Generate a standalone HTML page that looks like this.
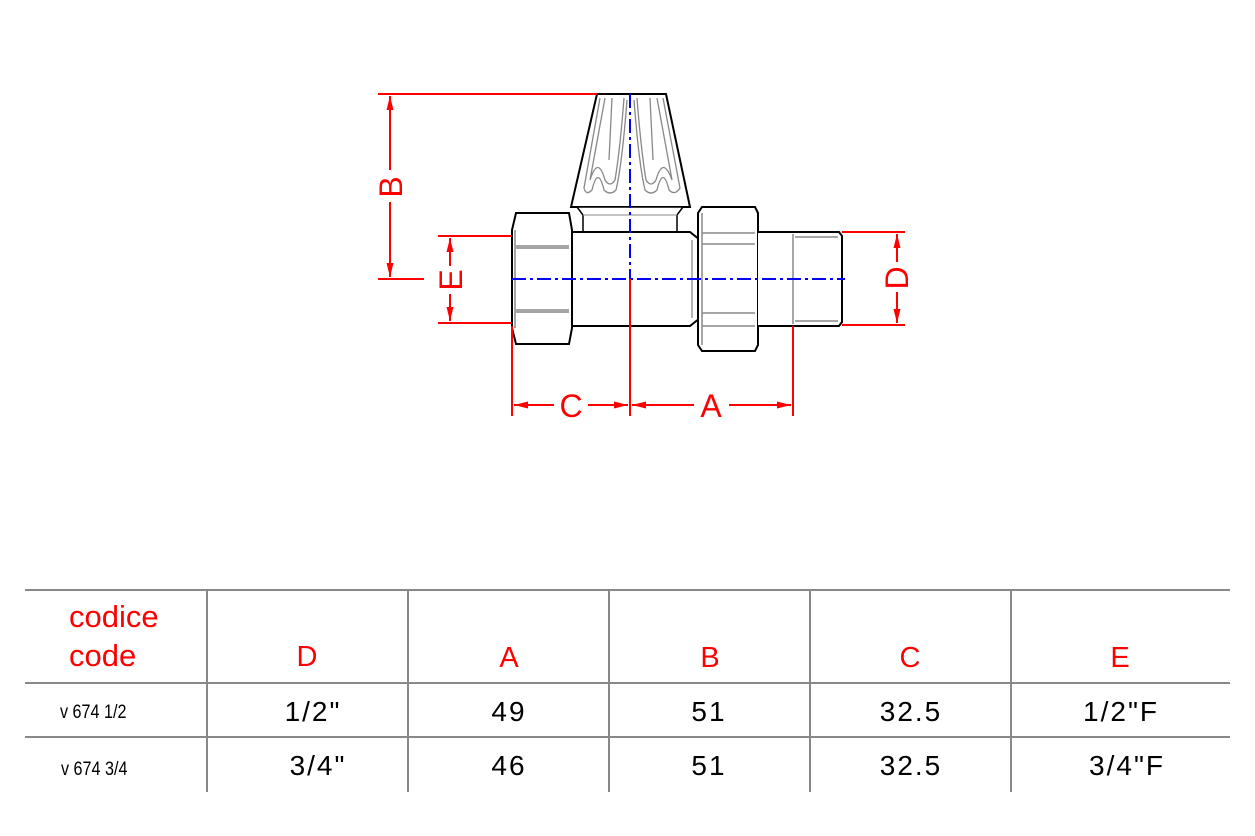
<!DOCTYPE html>
<html><head><meta charset="utf-8"><style>
html,body{margin:0;padding:0;background:#fff;}
svg{display:block;}
.r{font-family:"Liberation Sans",sans-serif;fill:#f00;}
.v{font-family:"Liberation Sans",sans-serif;fill:#000;font-size:28px;letter-spacing:2px;}
.c{font-family:"Liberation Sans",sans-serif;fill:#000;font-size:19px;}
</style></head><body>
<svg width="1255" height="836" viewBox="0 0 1255 836" xmlns="http://www.w3.org/2000/svg">
<defs>
<marker id="ar" markerWidth="14" markerHeight="7" refX="14" refY="3.5" orient="auto" markerUnits="userSpaceOnUse"><path d="M0,0 L14,3.5 L0,7 z" fill="#f00"/></marker>
</defs>
<!-- knob -->
<path d="M597,94 L666,94 L690,207 L571,207 Z" fill="#fff" stroke="#000" stroke-width="2"/>
<g fill="none" stroke="#888" stroke-width="1.3">
<path d="M600,98 L584,188 Q586,196 592,190 Q598,165 604,190 Q610,196 616,190 Q622,165 627,100"/>
<path d="M605,98 L590,180 Q598,155 605,180 Q610,188 615,180 Q620,150 624,98"/>
<path d="M634,100 Q639,165 645,190 Q651,196 657,190 Q663,165 669,190 Q675,196 680,188 L663,98"/>
<path d="M637,98 Q641,150 646,180 Q651,188 656,180 Q663,155 672,180 L657,98"/>
<path d="M612,98 L609,160 M650,98 L653,160"/>
</g>
<!-- collar -->
<path d="M577,207 L683,207 L677,215 L677,232 L583,232 L583,215 Z" fill="#fff" stroke="#000" stroke-width="1.5"/>
<line x1="583" y1="215" x2="677" y2="215" stroke="#888"/>
<path d="M583,232 Q630,255 677,232" fill="none" stroke="#888" stroke-width="1.5"/>
<!-- body -->
<path d="M572,232 L690,232 L700,240 L700,318 L690,326 L572,326" fill="#fff" stroke="#000" stroke-width="2"/>
<line x1="692" y1="240" x2="692" y2="318" stroke="#888" stroke-width="1.3"/>
<!-- left nut -->
<path d="M516,213 L569,213 L572,230 L572,328 L569,344 L516,344 L512,328 L512,230 Z" fill="#fff" stroke="#000" stroke-width="2"/>
<g stroke="#888" stroke-width="1.5" fill="none">
<line x1="516" y1="246" x2="569" y2="246"/><line x1="516" y1="248" x2="569" y2="248"/>
<line x1="516" y1="310" x2="569" y2="310"/><line x1="516" y1="312" x2="569" y2="312"/>
<line x1="515" y1="230" x2="515" y2="328"/>
</g>
<!-- right nut -->
<path d="M702,207 L755,207 L758,213 L758,345 L755,351 L702,351 L698,345 L698,213 Z" fill="#fff" stroke="#000" stroke-width="2"/>
<g stroke="#888" stroke-width="1.5" fill="none">
<line x1="702" y1="233" x2="755" y2="233"/><line x1="702" y1="244" x2="755" y2="244"/>
<line x1="702" y1="313" x2="755" y2="313"/><line x1="702" y1="326" x2="755" y2="326"/>
<line x1="702" y1="213" x2="702" y2="345"/>
</g>
<!-- pipe -->
<path d="M758,232 L839,232 L842,236 L842,322 L839,326 L758,326" fill="#fff" stroke="#000" stroke-width="2"/>
<g stroke="#888" stroke-width="1.5"><line x1="793" y1="234" x2="793" y2="324"/><line x1="795" y1="237" x2="838" y2="237"/><line x1="795" y1="321" x2="838" y2="321"/></g>
<!-- center lines -->
<g stroke="#00f" stroke-width="2" stroke-dasharray="14,4,3,4">
<line x1="512" y1="279" x2="845" y2="279"/>
<line x1="630" y1="94" x2="630" y2="279"/>
</g>
<!-- dims -->
<g stroke="#f00" stroke-width="2" fill="none">
<line x1="378" y1="94" x2="597" y2="94"/>
<line x1="378" y1="279" x2="424" y2="279"/>
<line x1="390" y1="170" x2="390" y2="96" marker-end="url(#ar)"/>
<line x1="390" y1="202" x2="390" y2="277" marker-end="url(#ar)"/>
<line x1="438" y1="236" x2="512" y2="236"/>
<line x1="438" y1="323" x2="512" y2="323"/>
<line x1="450" y1="266" x2="450" y2="238" marker-end="url(#ar)"/>
<line x1="450" y1="294" x2="450" y2="321" marker-end="url(#ar)"/>
<line x1="842" y1="232" x2="905" y2="232"/>
<line x1="842" y1="325" x2="905" y2="325"/>
<line x1="897" y1="262" x2="897" y2="234" marker-end="url(#ar)"/>
<line x1="897" y1="292" x2="897" y2="323" marker-end="url(#ar)"/>
<line x1="512" y1="326" x2="512" y2="416"/>
<line x1="630" y1="279" x2="630" y2="416"/>
<line x1="793" y1="326" x2="793" y2="416"/>
<line x1="554" y1="405" x2="514" y2="405" marker-end="url(#ar)"/>
<line x1="588" y1="405" x2="628" y2="405" marker-end="url(#ar)"/>
<line x1="694" y1="405" x2="632" y2="405" marker-end="url(#ar)"/>
<line x1="729" y1="405" x2="791" y2="405" marker-end="url(#ar)"/>
</g>
<text class="r" font-size="32" text-anchor="middle" transform="translate(402,187) rotate(-90)">B</text>
<text class="r" font-size="32" text-anchor="middle" transform="translate(462,280) rotate(-90)">E</text>
<text class="r" font-size="32" text-anchor="middle" transform="translate(908,278) rotate(-90)">D</text>
<text class="r" font-size="32" text-anchor="middle" x="571" y="417">C</text>
<text class="r" font-size="32" text-anchor="middle" x="711" y="417">A</text>
<!-- table -->
<g stroke="#888" stroke-width="2">
<line x1="25" y1="590" x2="1230" y2="590"/>
<line x1="25" y1="683" x2="1230" y2="683"/>
<line x1="25" y1="737" x2="1230" y2="737"/>
<line x1="207" y1="590" x2="207" y2="792"/>
<line x1="408" y1="590" x2="408" y2="792"/>
<line x1="609" y1="590" x2="609" y2="792"/>
<line x1="810" y1="590" x2="810" y2="792"/>
<line x1="1011" y1="590" x2="1011" y2="792"/>
</g>
<text class="r" font-size="31" x="69" y="627">codice</text>
<text class="r" font-size="31" x="69" y="666">code</text>
<g class="r" font-size="29" text-anchor="middle">
<text x="307" y="666">D</text><text x="509" y="667">A</text><text x="710" y="667">B</text><text x="910" y="667">C</text><text x="1120" y="667">E</text>
</g>
<text class="c" transform="translate(60,718) scale(0.85,1)">v 674 1/2</text>
<text class="c" transform="translate(61,775) scale(0.85,1)">v 674 3/4</text>
<g class="v" text-anchor="middle">
<text x="313" y="721">1/2"</text><text x="509" y="721">49</text><text x="709" y="721">51</text><text x="911" y="721">32.5</text><text x="1121" y="721">1/2"F</text>
<text x="318" y="775">3/4"</text><text x="509" y="775">46</text><text x="709" y="775">51</text><text x="911" y="775">32.5</text><text x="1127" y="775">3/4"F</text>
</g>
</svg>
</body></html>
